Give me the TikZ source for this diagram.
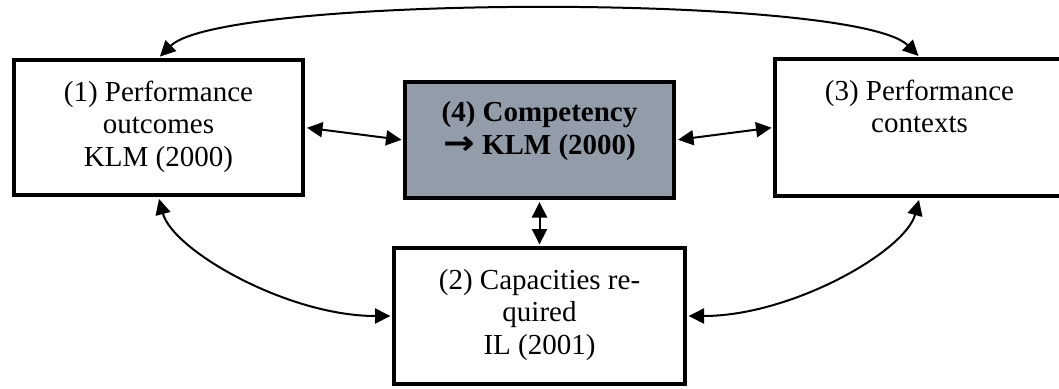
\documentclass[tikz,border=0pt]{standalone}
\usepackage{fontspec}
\setmainfont{Liberation Serif}
\newfontfamily\arrowfont{DejaVu Sans}
\usetikzlibrary{arrows.meta}
\definecolor{compfill}{HTML}{939DAA}
\newcommand\boxbody[4]{\parbox[c][#1][t]{#2}{\centering\vspace*{#3}#4}}
\begin{document}
\begin{tikzpicture}[x=1pt,y=1pt,
  box/.style={draw=black, line width=4pt, inner sep=0pt, fill=white,
    font=\fontsize{29}{32.5}\selectfont},
  link/.style={line width=2pt,
    {Triangle[length=15.5pt,width=15pt]}-{Triangle[length=15.5pt,width=15pt]},
    shorten <=2pt, shorten >=1.5pt}]
\path[use as bounding box] (0,0) rectangle (1059,-388);
\clip (0,0) rectangle (1059,-388);
\node[box] (b1) at (158.5,-127.5) {\boxbody{135pt}{289pt}{21pt}{(1) Performance\\outcomes\\KLM (2000)}};
\node[box] (b3) at (919.5,-127.5) {\boxbody{137pt}{289pt}{21pt}{(3) Performance\\contexts}};
\node[box, fill=compfill] (b4) at (539.5,-140) {\boxbody{116pt}{269pt}{19.5pt}{\bfseries (4) Competency\\{\arrowfont\bfseries\scalebox{1.3}[1.15]{→}} KLM (2000)}};
\node[box] (b2) at (539.5,-316) {\boxbody{136pt}{291pt}{21pt}{(2) Capacities re-\\quired\\IL (2001)}};
\draw[link] (b1.east) -- (b4.west);
\draw[link] (b4.east) -- (b3.west);
\draw[link] (b4.south) -- (b2.north);
\draw[link] (b1.north) to[out=45,in=135,out distance=90pt,in distance=90pt] (b3.north);
\draw[link] (b1.south) to[out=-75,in=180,out distance=55pt,in distance=105pt] (b2.west);
\draw[link] (b3.south) to[out=-105,in=0,out distance=55pt,in distance=105pt] (b2.east);
\end{tikzpicture}
\end{document}
